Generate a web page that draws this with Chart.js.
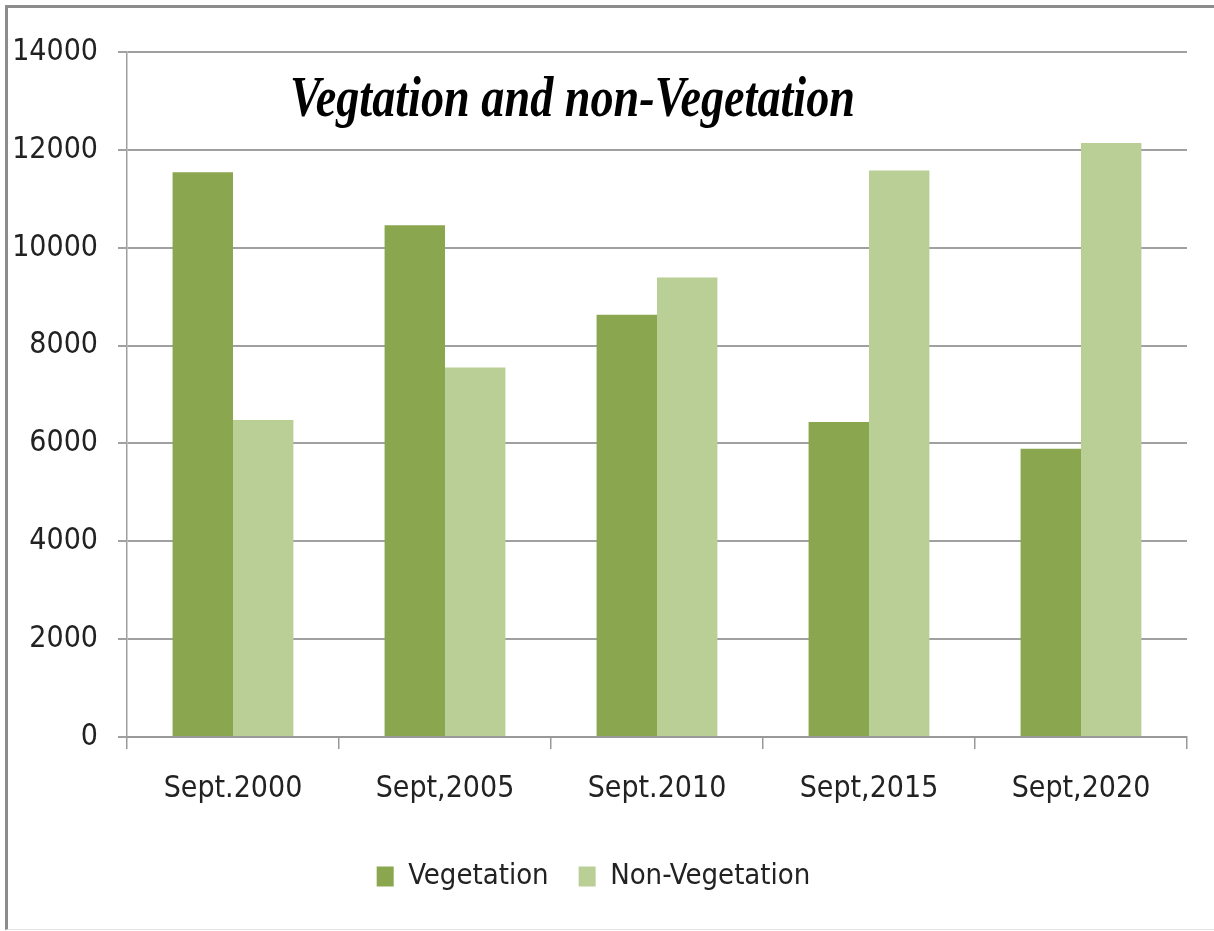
<!DOCTYPE html>
<html>
<head>
<meta charset="utf-8">
<script src="https://cdn.jsdelivr.net/npm/chart.js@4.4.1/dist/chart.umd.min.js"></script>
<style>
  html, body { margin: 0; padding: 0; background: #fff; }
  #wrap { position: relative; width: 1214px; height: 931px; overflow: hidden; }
  #frame { position: absolute; left: 5px; top: 5px; width: 1300px; height: 921px;
           border-top: 3px solid #8c8c8c; border-left: 3px solid #8c8c8c;
           border-bottom: 1px solid #e4e4e4; }
  #chart { position: absolute; left: 0; top: 0; }
</style>
</head>
<body>
<div id="wrap">
  <div id="frame"></div>
  <canvas id="chart" width="1214" height="931"></canvas>
</div>
<script>
const categories = ['Sept.2000', 'Sept,2005', 'Sept.2010', 'Sept,2015', 'Sept,2020'];
const vegetation = [11540, 10460, 8630, 6440, 5890];
const nonVegetation = [6480, 7550, 9390, 11580, 12140];
const yTicks = [0, 2000, 4000, 6000, 8000, 10000, 12000, 14000];
const chartTitle = 'Vegtation and non-Vegetation';

const narrow = '"Liberation Sans Narrow", "DejaVu Sans Condensed", sans-serif';

// title drawn inside the plot area, squeezed like the original
const titlePlugin = {
    id: 'plotTitle',
    afterDraw(chart) {
        const c = chart.ctx;
        c.save();
        c.font = 'italic bold 58px "Liberation Serif", "DejaVu Serif", serif';
        c.fillStyle = '#000';
        c.textBaseline = 'alphabetic';
        const w = c.measureText(chartTitle).width;
        const sx = 565 / w;
        c.translate(290, 116);
        c.scale(sx, 1);
        c.fillText(chartTitle, 0, 0);
        c.restore();
    }
};

const ctx = document.getElementById('chart').getContext('2d');

const chart = new Chart(ctx, {
    type: 'bar',
    data: {
        labels: categories,
        datasets: [
            { label: 'Vegetation', data: vegetation, backgroundColor: '#8aa64f' },
            { label: 'Non-Vegetation', data: nonVegetation, backgroundColor: '#bacf96' }
        ]
    },
    options: {
        responsive: false,
        animation: false,
        layout: { padding: { left: 0, right: 27, top: 52, bottom: 30 } },
        datasets: { bar: { categoryPercentage: 0.57, barPercentage: 1.0 } },
        scales: {
            x: {
                grid: { display: true, drawOnChartArea: false, drawTicks: true, tickLength: 12, color: '#999', lineWidth: 1.5 },
                border: { display: true, color: '#999', width: 2 },
                ticks: { color: '#222', font: { family: narrow, size: 30 }, padding: 22 },
                afterFit(scale) { scale.height = 95; }
            },
            y: {
                min: 0,
                max: 14000,
                afterBuildTicks(scale) { scale.ticks = yTicks.map(v => ({ value: v })); },
                grid: { color: '#a0a0a0', lineWidth: 2, tickLength: 9 },
                border: { display: true, color: '#a0a0a0', width: 1.5 },
                ticks: {
                    color: '#222',
                    font: { family: narrow, size: 30 },
                    padding: 20,
                    callback: v => String(v)
                },
                afterFit(scale) { scale.width = 127; }
            }
        },
        plugins: {
            legend: {
                position: 'bottom',
                labels: {
                    boxWidth: 17,
                    boxHeight: 20,
                    padding: 30,
                    color: '#222',
                    font: { family: narrow, size: 29 }
                }
            },
            tooltip: { enabled: false },
            title: { display: false }
        }
    },
    plugins: [titlePlugin]
});
</script>
</body>
</html>
